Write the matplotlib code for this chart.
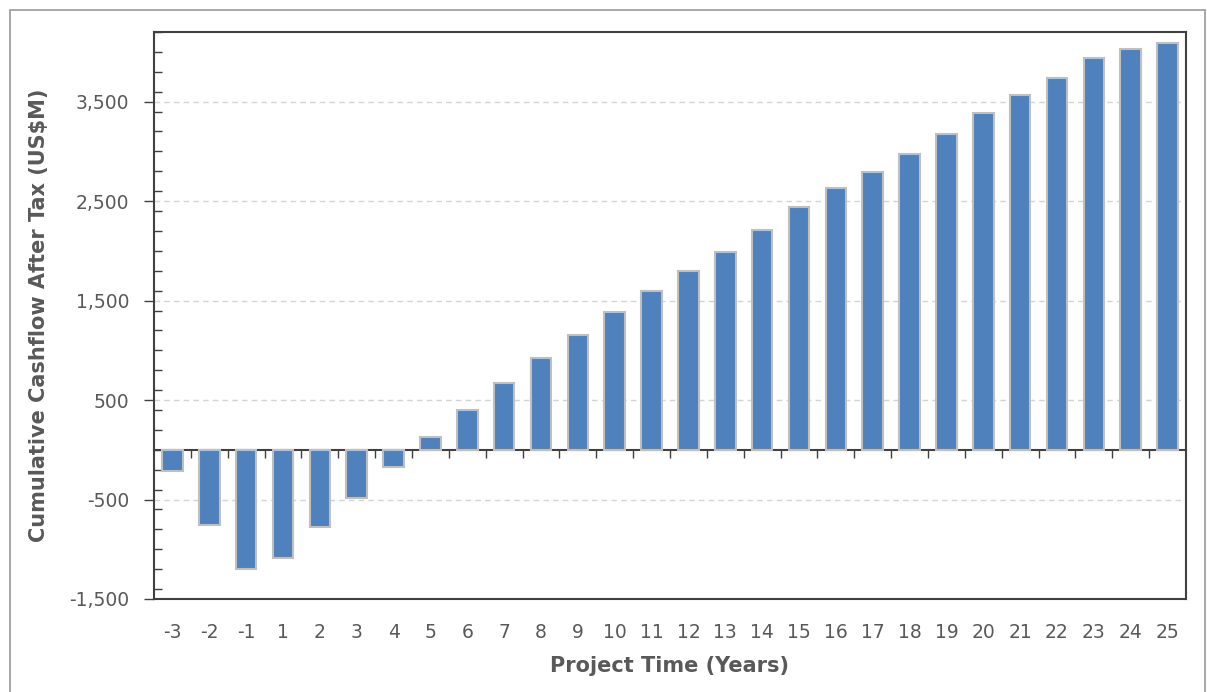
import matplotlib
matplotlib.use("Agg")
import matplotlib.pyplot as plt
from matplotlib.patches import Rectangle
from matplotlib.ticker import MultipleLocator, FuncFormatter, FixedLocator
import numpy as np

years = ["-3", "-2", "-1", "1", "2", "3", "4", "5", "6", "7", "8", "9", "10", "11",
         "12", "13", "14", "15", "16", "17", "18", "19", "20", "21", "22", "23", "24", "25"]
cumulative_cashflow = [-218, -755, -1195, -1088, -778, -483, -177, 131, 397, 670, 927,
                       1158, 1387, 1598, 1800, 1990, 2210, 2444, 2630, 2797, 2975, 3172,
                       3384, 3569, 3736, 3938, 4032, 4093]
y_ticks = [-1500, -500, 500, 1500, 2500, 3500]

plt.rcParams['font.family'] = ['DejaVu Sans']
W, H = 1207, 692
fig = plt.figure(figsize=(W / 100, H / 100), dpi=100)

# outer chart border
fig.patches.append(Rectangle((10 / W, -0.02), (1205 - 10) / W, 1 - 10 / H + 0.02,
                             transform=fig.transFigure, fill=False,
                             edgecolor="#9a9a9a", linewidth=1.2))

ax = fig.add_axes([154 / W, 1 - 599 / H, (1186 - 154) / W, (599 - 32) / H])
x = np.arange(len(years))
ax.bar(x, cumulative_cashflow, width=0.56, color="#4F81BD",
       edgecolor="#BFBFBF", linewidth=1.5, zorder=3)

ax.set_xlim(-0.5, len(years) - 0.5)
ax.set_ylim(-1500, 4200)

ax.yaxis.set_major_locator(FixedLocator(y_ticks))
ax.yaxis.set_minor_locator(MultipleLocator(200))
ax.yaxis.set_major_formatter(FuncFormatter(lambda v, p: f"{int(v):,}"))
ax.tick_params(axis="y", which="major", direction="out", length=7, width=1,
               color="#404040", labelsize=13.5, labelcolor="#595959", pad=11)
ax.tick_params(axis="y", which="minor", direction="in", length=6, width=1,
               color="#404040")
ax.grid(axis="y", which="major", linestyle=(0, (4, 3)), color="#d4d4d4",
        linewidth=1, zorder=0)

ax.set_xticks(x)
ax.set_xticklabels(years)
ax.tick_params(axis="x", which="both", length=0, labelsize=13.5,
               labelcolor="#595959", pad=17)

# zero axis with category separators
ymin, ymax = ax.get_ylim()
sec = ax.secondary_xaxis((0 - ymin) / (ymax - ymin))
sec.set_xticks(x[:-1] + 0.5)
sec.set_xticklabels([])
sec.tick_params(axis="x", direction="out", length=6, width=1, color="#404040")
sec.spines["bottom"].set_color("#404040")
sec.spines["bottom"].set_linewidth(1.5)

for s in ax.spines.values():
    s.set_color("#404040")
    s.set_linewidth(1.5)

ax.set_ylabel("Cumulative Cashflow After Tax (US$M)", fontsize=15, fontweight="bold",
              color="#595959", labelpad=14)
ax.set_xlabel("Project Time (Years)", fontsize=15, fontweight="bold",
              color="#595959", labelpad=10)

fig.savefig("out.png", dpi=100)
